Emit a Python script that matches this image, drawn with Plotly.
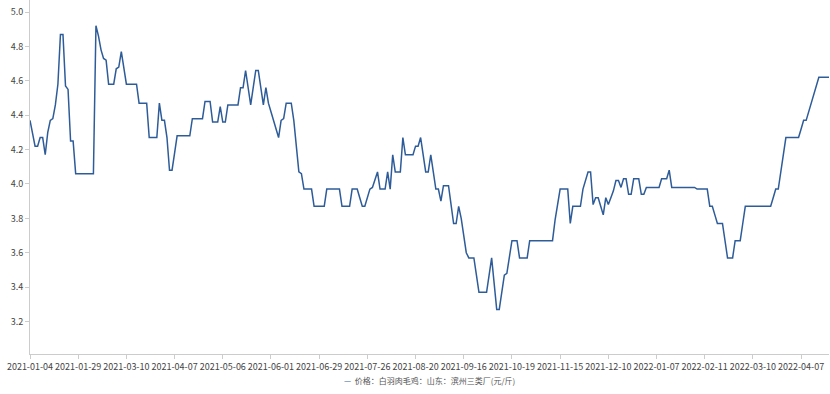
import plotly.graph_objects as go

tick_labels = ["2021-01-04", "2021-01-29", "2021-03-10", "2021-04-07", "2021-05-06",
               "2021-06-01", "2021-06-29", "2021-07-26", "2021-08-20", "2021-09-16",
               "2021-10-19", "2021-11-15", "2021-12-10", "2022-01-07", "2022-02-11",
               "2022-03-10", "2022-04-07"]
label_step = 19

series_name = "价格：白羽肉毛鸡：山东：滨州三类厂(元/斤)"
prices = [
    4.37, 4.30, 4.22, 4.22, 4.27, 4.27, 4.17, 4.30, 4.37, 4.38,
    4.46, 4.58, 4.87, 4.87, 4.57, 4.55, 4.25, 4.25, 4.06, 4.06,
    4.06, 4.06, 4.06, 4.06, 4.06, 4.06, 4.92, 4.86, 4.78, 4.73,
    4.72, 4.58, 4.58, 4.58, 4.67, 4.68, 4.77, 4.67, 4.58, 4.58,
    4.58, 4.58, 4.58, 4.47, 4.47, 4.47, 4.47, 4.27, 4.27, 4.27,
    4.27, 4.47, 4.37, 4.37, 4.27, 4.08, 4.08, 4.18, 4.28, 4.28,
    4.28, 4.28, 4.28, 4.28, 4.38, 4.38, 4.38, 4.38, 4.38, 4.48,
    4.48, 4.48, 4.36, 4.36, 4.36, 4.45, 4.36, 4.36, 4.46, 4.46,
    4.46, 4.46, 4.46, 4.56, 4.56, 4.66, 4.56, 4.46, 4.56, 4.66,
    4.66, 4.56, 4.46, 4.56, 4.47, 4.42, 4.37, 4.32, 4.27, 4.37,
    4.38, 4.47, 4.47, 4.47, 4.37, 4.20, 4.07, 4.06, 3.97, 3.97,
    3.97, 3.97, 3.87, 3.87, 3.87, 3.87, 3.87, 3.97, 3.97, 3.97,
    3.97, 3.97, 3.97, 3.87, 3.87, 3.87, 3.87, 3.97, 3.97, 3.97,
    3.92, 3.87, 3.87, 3.92, 3.97, 3.98, 4.02, 4.07, 3.97, 3.97,
    3.97, 4.07, 3.97, 4.17, 4.07, 4.07, 4.07, 4.27, 4.17, 4.17,
    4.17, 4.17, 4.22, 4.22, 4.27, 4.17, 4.07, 4.07, 4.17, 4.07,
    3.97, 3.97, 3.90, 3.99, 3.99, 3.99, 3.88, 3.77, 3.77, 3.87,
    3.80, 3.70, 3.60, 3.57, 3.57, 3.57, 3.47, 3.37, 3.37, 3.37,
    3.37, 3.47, 3.57, 3.42, 3.27, 3.27, 3.37, 3.47, 3.48, 3.57,
    3.67, 3.67, 3.67, 3.57, 3.57, 3.57, 3.57, 3.67, 3.67, 3.67,
    3.67, 3.67, 3.67, 3.67, 3.67, 3.67, 3.67, 3.79, 3.87, 3.97,
    3.97, 3.97, 3.97, 3.77, 3.87, 3.87, 3.87, 3.87, 3.97, 4.02,
    4.07, 4.07, 3.88, 3.92, 3.92, 3.87, 3.82, 3.92, 3.88, 3.92,
    3.96, 4.02, 4.02, 3.98, 4.03, 4.03, 3.94, 3.94, 4.03, 4.03,
    4.03, 3.94, 3.94, 3.98, 3.98, 3.98, 3.98, 3.98, 3.98, 4.03,
    4.03, 4.03, 4.08, 3.98, 3.98, 3.98, 3.98, 3.98, 3.98, 3.98,
    3.98, 3.98, 3.98, 3.97, 3.97, 3.97, 3.97, 3.97, 3.87, 3.87,
    3.82, 3.77, 3.77, 3.77, 3.67, 3.57, 3.57, 3.57, 3.67, 3.67,
    3.67, 3.77, 3.87, 3.87, 3.87, 3.87, 3.87, 3.87, 3.87, 3.87,
    3.87, 3.87, 3.87, 3.92, 3.97, 3.97, 4.07, 4.17, 4.27, 4.27,
    4.27, 4.27, 4.27, 4.27, 4.32, 4.37, 4.37, 4.42, 4.47, 4.52,
    4.57, 4.62, 4.62, 4.62, 4.62, 4.62,
]
y_ticks = [3.2, 3.4, 3.6, 3.8, 4.0, 4.2, 4.4, 4.6, 4.8, 5.0]

line_color = "#2E5C99"
axis_color = "#CCCCCC"
font_family = "Noto Sans CJK SC, Noto Sans, sans-serif"

x_idx = list(range(len(prices)))
tick_pos = [i * label_step for i in range(len(tick_labels))]

fig = go.Figure()
fig.add_trace(go.Scatter(
    x=x_idx, y=prices, mode="lines", name=series_name,
    line=dict(color=line_color, width=1.5), showlegend=False,
    cliponaxis=False,
))

fig.update_layout(
    width=830, height=394,
    margin=dict(l=30, r=1, t=0, b=40, autoexpand=False),
    paper_bgcolor="white", plot_bgcolor="white",
    font=dict(family=font_family, size=9, color="#444444"),
    xaxis=dict(
        range=[0, len(prices) - 1],
        tickmode="array", tickvals=tick_pos, ticktext=tick_labels,
        tickangle=0, automargin=False,
        showgrid=False, zeroline=False,
        showline=True, linecolor=axis_color, linewidth=1,
        ticks="outside", ticklen=4, tickcolor=axis_color,
        tickfont=dict(size=9, color="#444444"),
    ),
    yaxis=dict(
        range=[3.011, 5.07], automargin=False,
        tickmode="array", tickvals=y_ticks,
        ticktext=[f"{v:.1f}" for v in y_ticks],
        showgrid=False, zeroline=False,
        showline=True, linecolor=axis_color, linewidth=1,
        ticks="outside", ticklen=4, tickcolor=axis_color,
        tickfont=dict(size=9, color="#444444"),
    ),
    annotations=[dict(
        x=0.5, y=-0.075, xref="paper", yref="paper",
        xanchor="center", yanchor="middle", showarrow=False,
        text=f"<span style='color:{line_color}'>—</span>  {series_name}",
        font=dict(size=8, color="#555555", family=font_family),
    )],
)

fig.write_html(
    "out.html",
    config={"displayModeBar": False},
    post_script="document.body.style.margin='0px';document.body.style.overflow='hidden';",
)
